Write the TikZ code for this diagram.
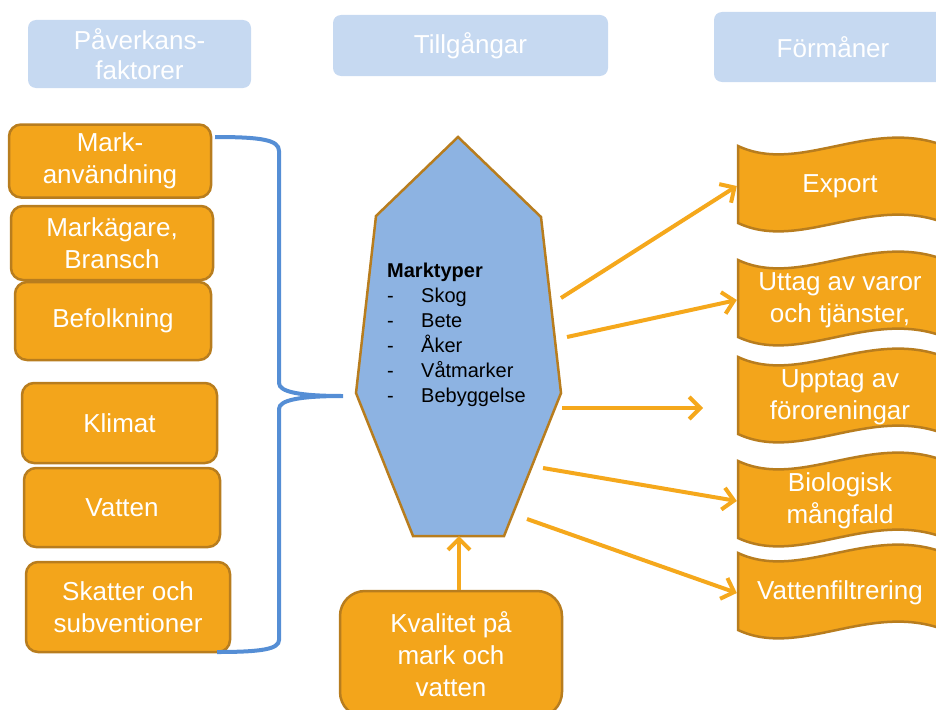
\documentclass[tikz,border=0pt]{standalone}
\usepackage{fontspec}
\setmainfont{Liberation Sans}
\usetikzlibrary{arrows.meta}
\definecolor{boxorange}{HTML}{F3A51B}
\definecolor{boxedge}{HTML}{B87D1E}
\definecolor{hexblue}{HTML}{8DB3E2}
\definecolor{headblue}{HTML}{C6D9F1}
\definecolor{braceblue}{HTML}{558ED5}
\definecolor{floworange}{HTML}{F5A81C}
\newcommand{\listdash}{\makebox[34pt][l]{-}}

\begin{document}
\begin{tikzpicture}[x=1pt,y=-1pt,
    factor/.style={draw=boxedge, line width=2.5pt, fill=boxorange, rounded corners=12pt,
        text=white, align=center, inner sep=0pt, font=\fontsize{26}{32}\selectfont},
    header/.style={fill=headblue, rounded corners=8pt, text=white, align=center,
        inner sep=0pt, font=\fontsize{26}{30}\selectfont},
    wave/.style={draw=boxedge, line width=2.5pt, fill=boxorange},
    benefit/.style={text=white, align=center, inner sep=0pt, minimum width=206pt,
        minimum height=77pt, font=\fontsize{26}{32}\selectfont},
    flow/.style={draw=floworange, line width=4pt, -{Straight Barb[length=11pt,width=22pt]}},
]
    \useasboundingbox (0,0) rectangle (936,709);
    \clip (0,0) rectangle (936,709);
    % Headers
    \node[header, minimum width=223pt, minimum height=68pt] (hfak) at (139.5,54) {Påverkans-\\faktorer};
    \node[header, minimum width=275pt, minimum height=61pt] (htill) at (470.5,45.5) {Tillgångar};
    \node[header, minimum width=238pt, minimum height=70pt] (hform) at (833,47) {Förmåner};
    % Left boxes
    \node[factor, minimum width=202pt, minimum height=73pt] (mark) at (110,161) {Mark-\\användning};
    \node[factor, minimum width=202pt, minimum height=74pt] (agare) at (112,243) {Markägare,\\Bransch};
    \node[factor, minimum width=196pt, minimum height=78pt] (befolk) at (113,321) {Befolkning};
    \node[factor, minimum width=195pt, minimum height=80pt] (klimat) at (119.5,423) {Klimat};
    \node[factor, minimum width=196pt, minimum height=79pt] (vatten) at (122,507.5) {Vatten};
    \node[factor, minimum width=204pt, minimum height=90pt] (skatt) at (128,607) {Skatter och\\subventioner};
    % Brace
    \draw[braceblue, line width=4pt] (215,137) .. controls (262,137) and (279,140) .. (279,151)
        -- (279,383) .. controls (279,392) and (300,396) .. (343,396)
        .. controls (300,396) and (279,400) .. (279,409)
        -- (279,640) .. controls (279,649) and (262,652) .. (217,652);
    % Hexagon
    \draw[draw=boxedge, line width=2.5pt, fill=hexblue] (458,137) -- (376,216) -- (356,393)
        -- (413,536) -- (504,536) -- (561,393) -- (541,217) -- cycle;
    \coordinate (hexb) at (459,536);
    \node[anchor=north west, inner sep=0pt, align=left, font=\fontsize{20}{25}\selectfont] (typer) at (387,263)
        {\textbf{Marktyper}\\ \listdash Skog\\ \listdash Bete\\ \listdash Åker\\
         \listdash Våtmarker\\ \listdash Bebyggelse};
    % Bottom box
    \node[factor, rounded corners=25pt, minimum width=222pt, minimum height=126pt] (kval) at (451,654)
        {Kvalitet på\\mark och\\vatten};
    % Right wave boxes
    \foreach \t in {146,260,357,461,553}
        \draw[wave] (738,\t) .. controls (800,\t+29) and (870,\t-29) .. (945,\t) -- (945,\t+77)
            .. controls (870,\t+48) and (800,\t+106) .. (738,\t+77) -- cycle;
    \node[benefit] (export) at (840,186) {Export};
    \node[benefit] (uttag) at (840,300) {Uttag av varor\\och tjänster,};
    \node[benefit] (upptag) at (840,397) {Upptag av\\föroreningar};
    \node[benefit] (bio) at (840,501) {Biologisk\\mångfald};
    \node[benefit] (filter) at (840,593) {Vattenfiltrering};
    % Arrows
    \coordinate (s1) at (561,298);
    \coordinate (s2) at (567,337);
    \coordinate (s3) at (562,408);
    \coordinate (e3) at (703,408);
    \coordinate (s4) at (543,468);
    \coordinate (s5) at (527,519);
    \draw[flow] (s1) -- (export.west);
    \draw[flow] (s2) -- (uttag.west);
    \draw[flow] (s3) -- (e3);
    \draw[flow] (s4) -- (bio.west);
    \draw[flow] (s5) -- (filter.west);
    \draw[flow] (kval.north -| hexb) -- (hexb);
\end{tikzpicture}
\end{document}
